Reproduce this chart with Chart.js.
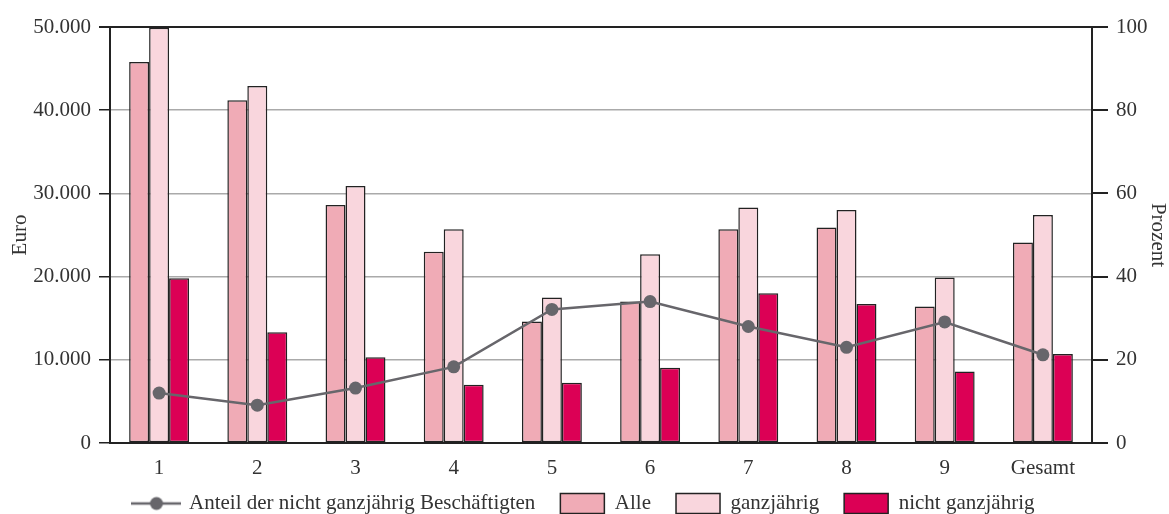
<!DOCTYPE html>
<html>
<head>
<meta charset="utf-8">
<script src="https://cdn.jsdelivr.net/npm/chart.js@4"></script>
<style>
  html, body { margin: 0; padding: 0; background: #fff; }
  #wrap { width: 1169px; height: 514px; }
</style>
</head>
<body>
<div id="wrap"><canvas id="chart" width="1169" height="514"></canvas></div>
<script>
// data
const categories = ['1', '2', '3', '4', '5', '6', '7', '8', '9', 'Gesamt'];
const alle        = [45800, 41200, 28600, 23000, 14600, 17000, 25700, 25900, 16400, 24100];
const ganzjaehrig = [49900, 42900, 30900, 25700, 17500, 22700, 28300, 28000, 19900, 27400];
const nichtGanz   = [19800, 13300, 10300,  7000,  7250,  9050, 18000, 16700,  8600, 10700];
const anteilProzent = [12.0, 9.1, 13.2, 18.3, 32.1, 34.0, 28.0, 23.0, 29.1, 21.2];

const FONT = { family: '"Liberation Serif", "Times New Roman", serif', size: 21 };
const TITLE_FONT = { family: '"Liberation Serif", "Times New Roman", serif', size: 21, lineHeight: 1.05 };
const TEXT = '#333';
const DARK = '#222';

// little picture for the line entry of the legend: line with a dot
const lineIcon = document.createElement('canvas');
lineIcon.width = 50; lineIcon.height = 20;
(function () {
  const c = lineIcon.getContext('2d');
  c.strokeStyle = '#67666b';
  c.lineWidth = 2.5;
  c.beginPath(); c.moveTo(0, 10); c.lineTo(50, 10); c.stroke();
  c.fillStyle = '#67666b';
  c.beginPath(); c.arc(25, 10, 6.5, 0, Math.PI * 2); c.fill();
})();

// legend gets a short box at the very bottom, then is pulled up a bit
const fixLegend = {
  id: 'fixLegend',
  beforeLayout(chart) {
    const lg = chart.legend;
    if (lg && !lg._patched) {
      const orig = lg.fit;
      lg.fit = function () { orig.call(this); this.height = 20; };
      lg._patched = true;
    }
  },
  afterLayout(chart) {
    const lg = chart.legend;
    if (lg) { lg.top = 468; lg.bottom = 514; }
  }
};

const ctx = document.getElementById('chart').getContext('2d');
const chart = new Chart(ctx, {
  type: 'bar',
  data: {
    labels: categories,
    datasets: [
      {
        type: 'line',
        label: 'Anteil der nicht ganzjährig Beschäftigten',
        data: anteilProzent,
        yAxisID: 'y1',
        borderColor: '#67666b',
        backgroundColor: '#67666b',
        borderWidth: 2.5,
        pointRadius: 6.5,
        pointHoverRadius: 6.5,
        pointBackgroundColor: '#67666b',
        pointBorderWidth: 0,
        tension: 0,
        order: 0
      },
      {
        label: 'Alle',
        data: alle,
        yAxisID: 'y',
        backgroundColor: '#f0abb6',
        borderColor: DARK,
        borderWidth: 1.5,
        borderSkipped: false,
        order: 1
      },
      {
        label: 'ganzjährig',
        data: ganzjaehrig,
        yAxisID: 'y',
        backgroundColor: '#f9d6dd',
        borderColor: DARK,
        borderWidth: 1.5,
        borderSkipped: false,
        order: 2
      },
      {
        label: 'nicht ganzjährig',
        data: nichtGanz,
        yAxisID: 'y',
        backgroundColor: '#dc0055',
        borderColor: DARK,
        borderWidth: 1.5,
        borderSkipped: false,
        order: 3
      }
    ]
  },
  options: {
    responsive: false,
    animation: false,
    locale: 'de-DE',
    layout: { padding: { top: 27, bottom: 0, left: 0, right: 0 } },
    datasets: { bar: { categoryPercentage: 0.61, barPercentage: 1.0 } },
    plugins: {
      tooltip: { enabled: false },
      legend: {
        position: 'bottom',
        labels: {
          font: FONT,
          color: TEXT,
          usePointStyle: true,
          pointStyleWidth: 44,
          boxHeight: 20,
          padding: 25,
          generateLabels(chart) {
            const items = Chart.defaults.plugins.legend.labels.generateLabels(chart);
            items.forEach(it => {
              const ds = chart.data.datasets[it.datasetIndex];
              if (ds.type === 'line') {
                it.pointStyle = lineIcon;
              } else {
                it.pointStyle = 'rect';
                it.strokeStyle = DARK;
                it.lineWidth = 1.5;
              }
            });
            return items;
          }
        }
      }
    },
    scales: {
      x: {
        grid: { display: false },
        border: { color: DARK, width: 2 },
        ticks: { font: FONT, color: TEXT, padding: 5, maxRotation: 0 },
        afterFit(scale) { scale.height = 51; }
      },
      y: {
        position: 'left',
        min: 0, max: 50000,
        ticks: { stepSize: 10000, font: FONT, color: TEXT, padding: 8 },
        grid: {
          color: c => (c.tick && c.tick.value === 50000) ? DARK : '#aaaaaa',
          lineWidth: c => (c.tick && c.tick.value === 50000) ? 2 : 1.5,
          tickColor: DARK,
          tickLength: 11
        },
        border: { color: DARK, width: 2 },
        title: { display: true, text: 'Euro', font: TITLE_FONT, color: TEXT, padding: 9 },
        afterFit(scale) { scale.width = 110; }
      },
      y1: {
        position: 'right',
        min: 0, max: 100,
        ticks: { stepSize: 20, font: FONT, color: TEXT, padding: 8 },
        grid: { drawOnChartArea: false, tickColor: DARK, tickLength: 16, lineWidth: 2 },
        border: { color: DARK, width: 2 },
        title: { display: true, text: 'Prozent', font: TITLE_FONT, color: TEXT, padding: 0 },
        afterFit(scale) { scale.width = 77; }
      }
    }
  },
  plugins: [fixLegend]
});
</script>
</body>
</html>
